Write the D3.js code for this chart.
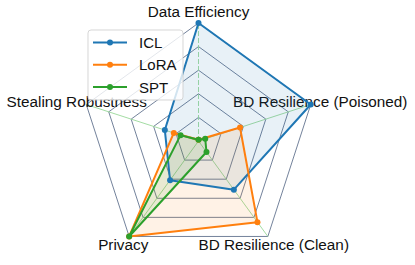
<!DOCTYPE html>
<html>
<head>
<meta charset="utf-8">
<script src="https://cdn.jsdelivr.net/npm/d3@7"></script>
<style>
  body { margin: 0; background: #fff; }
  text { font-family: "Liberation Sans", Arial, sans-serif; }
</style>
</head>
<body>
<div id="chart"></div>
<script>
// axes go clockwise starting at the top
var axes = ["Data Efficiency", "BD Resilience (Poisoned)", "BD Resilience (Clean)", "Privacy", "Stealing Robustness"];
var seriesNames = ["ICL", "LoRA", "SPT"];
var iclValues = [1.0, 1.0, 0.51, 0.41, 0.30];
var loraValues = [0.01, 0.37, 0.85, 1.0, 0.22];
var sptValues = [0.01, 0.06, 0.115, 1.0, 0.16];
var ringTicks = [0.2, 0.4, 0.6, 0.8, 1.0];
var colors = ["#1f77b4", "#ff7f0e", "#2ca02c"];

var width = 415, height = 265;
var cx = 198.5, cy = 141, R = 118;

var svg = d3.select("#chart").append("svg")
    .attr("width", width)
    .attr("height", height);

var g = svg.append("g")
    .attr("transform", "translate(" + cx + "," + cy + ")");

var rScale = d3.scaleLinear().domain([0, 1]).range([0, R]);
var angle = d3.scaleLinear().domain([0, axes.length]).range([0, 2 * Math.PI]);

function pt(i, v) {
    var a = angle(i) - Math.PI / 2;
    return [Math.cos(a) * rScale(v), Math.sin(a) * rScale(v)];
}

var line = d3.line().curve(d3.curveLinearClosed);

// rings
g.selectAll(".ring")
    .data(ringTicks)
    .enter().append("path")
    .attr("class", "ring")
    .attr("d", function(t) { return line(axes.map(function(a, i) { return pt(i, t); })); })
    .attr("fill", "none")
    .attr("stroke", "#4f6282")
    .attr("stroke-width", 0.8);

// spokes (the vertical one reads as dashed in the original)
g.selectAll(".spoke")
    .data(axes)
    .enter().append("line")
    .attr("class", "spoke")
    .attr("x1", 0).attr("y1", 0)
    .attr("x2", function(d, i) { return pt(i, 1)[0]; })
    .attr("y2", function(d, i) { return pt(i, 1)[1]; })
    .attr("stroke", "#98d898")
    .attr("stroke-width", 0.9)
    .attr("stroke-dasharray", function(d, i) { return i == 0 ? "5,2" : null; });

// axis labels
g.selectAll(".axis-label")
    .data(axes)
    .enter().append("text")
    .attr("class", "axis-label")
    .attr("x", function(d, i) { return pt(i, 1.085)[0]; })
    .attr("y", function(d, i) { return pt(i, i == 0 ? 1.1 : 1.085)[1] + 5.5; })
    .attr("text-anchor", "middle")
    .attr("font-size", 15.3)
    .attr("fill", "#111")
    .text(function(d) { return d; });

// series
var allSeries = [iclValues, loraValues, sptValues];

allSeries.forEach(function(vals, s) {
    var pts = vals.map(function(v, i) { return pt(i, v); });
    g.append("path")
        .attr("d", line(pts))
        .attr("fill", colors[s])
        .attr("fill-opacity", 0.1)
        .attr("stroke", "none");
});

allSeries.forEach(function(vals, s) {
    var pts = vals.map(function(v, i) { return pt(i, v); });
    g.append("path")
        .attr("d", line(pts))
        .attr("fill", "none")
        .attr("stroke", colors[s])
        .attr("stroke-width", 2)
        .attr("stroke-linejoin", "round");
    g.selectAll(".dot" + s)
        .data(pts)
        .enter().append("circle")
        .attr("cx", function(d) { return d[0]; })
        .attr("cy", function(d) { return d[1]; })
        .attr("r", 3)
        .attr("fill", colors[s]);
});

// legend
var legend = svg.append("g").attr("transform", "translate(88,30)");
legend.append("rect")
    .attr("width", 95).attr("height", 70)
    .attr("rx", 3)
    .attr("fill", "#fff").attr("fill-opacity", 0.8)
    .attr("stroke", "#ccc").attr("stroke-opacity", 0.8);

var items = legend.selectAll(".item")
    .data(seriesNames)
    .enter().append("g")
    .attr("transform", function(d, i) { return "translate(0," + (12.5 + i * 22.3) + ")"; });
items.append("line")
    .attr("x1", 5).attr("x2", 39)
    .attr("stroke", function(d, i) { return colors[i]; })
    .attr("stroke-width", 2);
items.append("circle")
    .attr("cx", 22).attr("r", 3)
    .attr("fill", function(d, i) { return colors[i]; });
items.append("text")
    .attr("x", 51).attr("y", 5.5)
    .attr("font-size", 15)
    .attr("fill", "#111")
    .text(function(d) { return d; });
</script>
</body>
</html>
